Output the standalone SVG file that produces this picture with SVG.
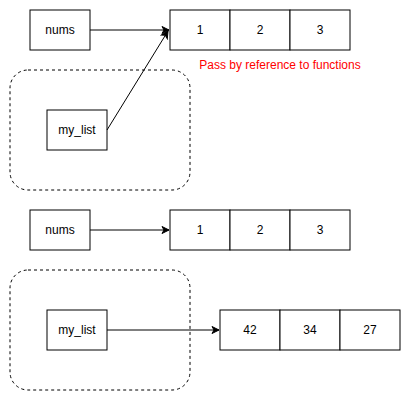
<svg xmlns="http://www.w3.org/2000/svg" width="411" height="402" viewBox="0 0 411 402">
<style>
.b{fill:#fff;stroke:#000;stroke-width:1}
.d{fill:none;stroke:#000;stroke-width:1;stroke-dasharray:3 3}
.t{font-family:"Liberation Sans",Arial,sans-serif;font-size:12px;fill:#000;text-anchor:middle;dominant-baseline:central}
.c{fill:none;stroke:#000;stroke-width:1}
</style>
<defs>
<marker id="a" markerWidth="10" markerHeight="10" refX="8" refY="5" orient="auto" markerUnits="userSpaceOnUse">
<path d="M1,1.5 L8,5 L1,8.5 L3,5 Z" fill="#000" stroke="#000"/>
</marker>
</defs>
<rect width="411" height="402" fill="#fff"/>
<g id="scope1"><rect class="d" x="10" y="70" width="180" height="120" rx="18"/></g>
<g id="scope2"><rect class="d" x="10" y="270" width="180" height="120" rx="18"/></g>
<g id="nums1"><rect class="b" x="30" y="10" width="60" height="40"/><text class="t" x="60" y="30">nums</text></g>
<g id="arr1">
<rect class="b" x="170" y="10" width="60" height="40"/><text class="t" x="200" y="30">1</text>
<rect class="b" x="230" y="10" width="60" height="40"/><text class="t" x="260" y="30">2</text>
<rect class="b" x="290" y="10" width="60" height="40"/><text class="t" x="320" y="30">3</text>
</g>
<g id="label"><text class="t" x="280" y="65" style="fill:#ff0000">Pass by reference to functions</text></g>
<g id="mylist1"><rect class="b" x="47" y="110" width="60" height="40"/><text class="t" x="77" y="130">my_list</text></g>
<g id="nums2"><rect class="b" x="30" y="210" width="60" height="40"/><text class="t" x="60" y="230">nums</text></g>
<g id="arr2">
<rect class="b" x="170" y="210" width="60" height="40"/><text class="t" x="200" y="230">1</text>
<rect class="b" x="230" y="210" width="60" height="40"/><text class="t" x="260" y="230">2</text>
<rect class="b" x="290" y="210" width="60" height="40"/><text class="t" x="320" y="230">3</text>
</g>
<g id="mylist2"><rect class="b" x="47" y="310" width="60" height="40"/><text class="t" x="77" y="330">my_list</text></g>
<g id="arr3">
<rect class="b" x="220" y="310" width="60" height="40"/><text class="t" x="250" y="330">42</text>
<rect class="b" x="280" y="310" width="60" height="40"/><text class="t" x="310" y="330">34</text>
<rect class="b" x="340" y="310" width="60" height="40"/><text class="t" x="370" y="330">27</text>
</g>
<g id="connectors">
<path class="c" d="M90,30 L169,30" marker-end="url(#a)"/>
<path class="c" d="M107,130 L168,31" marker-end="url(#a)"/>
<path class="c" d="M90,230 L169,230" marker-end="url(#a)"/>
<path class="c" d="M107,330 L219,330" marker-end="url(#a)"/>
</g>
</svg>
